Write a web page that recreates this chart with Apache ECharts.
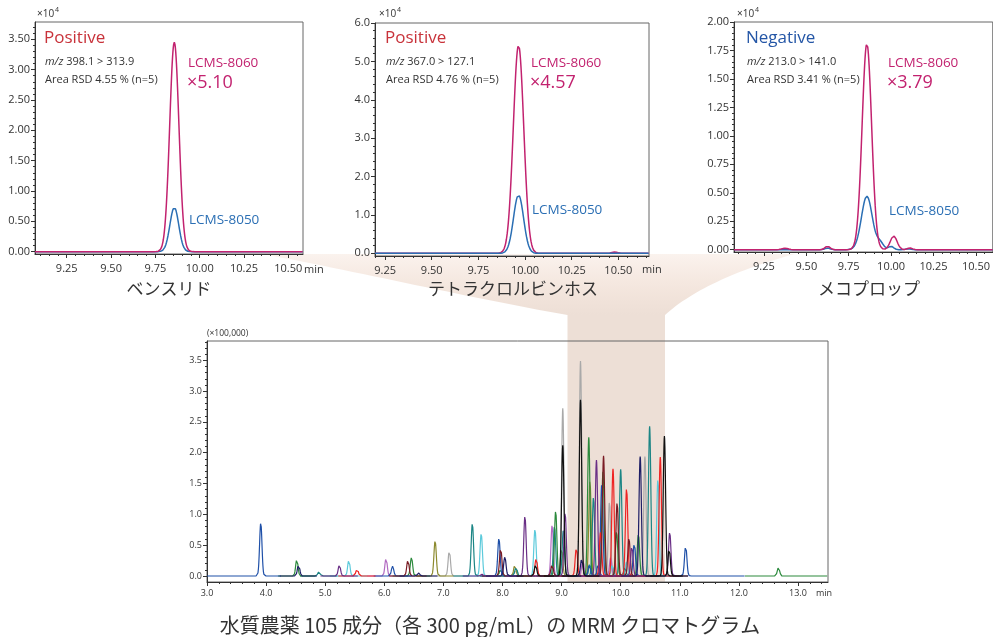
<!DOCTYPE html>
<html>
<head>
<meta charset="utf-8">
<script src="https://cdn.jsdelivr.net/npm/echarts@6/dist/echarts.min.js"></script>
<style>
  html, body { margin: 0; padding: 0; background: #fff; }
  #chart { width: 993px; height: 637px; }
</style>
</head>
<body>
<div id="chart"></div>
<script>
// ---------- Top panels: single-compound chromatograms (intensity ×10^4) ----------
// Peak tables: [retention time (min), height, sigma (min)]
const benPeaks8060 = [[9.857, 3.45, 0.026]];
const benPeaks8050 = [[9.857, 0.73, 0.025]];
const tetPeaks8060 = [[9.965, 5.42, 0.028], [10.48, 0.035, 0.015]];
const tetPeaks8050 = [[9.965, 1.52, 0.027]];
const mecPeaks8060 = [[9.375, 0.012, 0.02], [9.625, 0.03, 0.015], [9.857, 1.81, 0.028], [10.015, 0.12, 0.02], [10.11, 0.015, 0.015]];
const mecPeaks8050 = [[9.625, 0.015, 0.015], [9.857, 0.47, 0.032], [9.935, 0.06, 0.02], [10.0, 0.03, 0.015], [10.1, 0.008, 0.015]];

const compoundNames = ['ベンスリド', 'テトラクロルビンホス', 'メコプロップ'];
const ionModes = ['Positive', 'Positive', 'Negative'];
const transitions = ['398.1 > 313.9', '367.0 > 127.1', '213.0 > 141.0'];
const areaRsd = ['4.55', '4.76', '3.41'];
const sensitivityRatios = ['5.10', '4.57', '3.79'];

const topTimeTicks = [9.25, 9.5, 9.75, 10.0, 10.25, 10.5];
const benIntensityTicks = [0, 0.5, 1.0, 1.5, 2.0, 2.5, 3.0, 3.5];
const tetIntensityTicks = [0, 1, 2, 3, 4, 5, 6];
const mecIntensityTicks = [0, 0.25, 0.5, 0.75, 1.0, 1.25, 1.5, 1.75, 2.0];

// ---------- Bottom panel: MRM chromatogram of 105 pesticides (intensity ×100,000) ----------
// Peaks per trace colour: [retention time (min), height]
const grayPeaks = [[7.10, 0.41], [8.22, 0.10], [9.02, 2.72], [9.32, 3.49], [9.81, 1.21], [10.41, 1.94]];
const olivePeaks = [[6.86, 0.57], [8.21, 0.19], [9.00, 0.45], [9.48, 1.56]];
const lightPurplePeaks = [[6.03, 0.29], [8.84, 0.83], [9.36, 0.27], [9.83, 0.30]];
const cyanPeaks = [[5.40, 0.26], [7.64, 0.69], [8.55, 0.76], [9.86, 0.20], [10.10, 0.23], [10.63, 1.58]];
const tealPeaks = [[4.895, 0.07], [7.49, 0.855], [8.23, 0.15], [8.88, 0.81], [9.03, 0.75], [9.48, 0.22], [9.54, 1.29], [10.00, 1.73], [10.07, 0.14], [10.49, 2.43]];
const greenPeaks = [[4.52, 0.27], [6.46, 0.30], [7.97, 0.12], [8.90, 1.06], [9.46, 2.25], [9.70, 1.69], [9.93, 0.72], [10.30, 0.68], [12.67, 0.14]];
const bluePeaks = [[3.91, 0.865], [6.14, 0.16], [7.94, 0.61], [9.47, 0.20], [9.62, 0.20], [9.68, 1.50], [10.23, 0.54], [11.10, 0.49]];
const purplePeaks = [[5.24, 0.18], [7.65, 0.03], [8.38, 0.975], [9.06, 1.03], [9.59, 1.88], [10.19, 0.49], [10.83, 0.71]];
const redPeaks = [[5.54, 0.12], [8.57, 0.29], [9.25, 0.46], [9.66, 0.72], [9.87, 1.74], [10.10, 1.43], [10.67, 1.93]];
const darkRedPeaks = [[6.40, 0.26], [7.97, 0.45], [8.84, 0.20], [9.71, 1.95], [9.94, 1.20], [10.14, 0.61]];
const navyPeaks = [[4.55, 0.19], [6.58, 0.05], [8.04, 0.31], [9.34, 0.28], [10.33, 1.94]];
const blackPeaks = [[8.56, 0.18], [9.02, 2.12], [9.32, 2.86], [10.74, 2.27], [10.82, 0.44]];

const mrmTimeTicks = [3, 4, 5, 6, 7, 8, 9, 10, 11, 12, 13];
const mrmIntensityTicks = [0, 0.5, 1.0, 1.5, 2.0, 2.5, 3.0, 3.5];
const highlightRange = [9.1, 10.75];

// ---------- styling ----------
const C8060 = '#c2226f';
const C8050 = '#2b6fb4';
const traceGroups = [
  [grayPeaks, '#a9a9a9'],
  [olivePeaks, '#8c8a2e'],
  [lightPurplePeaks, '#b36cc2'],
  [cyanPeaks, '#5ccadb'],
  [tealPeaks, '#1b8585'],
  [greenPeaks, '#2c8a3d'],
  [bluePeaks, '#1f50a8'],
  [redPeaks, '#ef2424'],
  [darkRedPeaks, '#7a1b24'],
  [purplePeaks, '#6a2f86'],
  [navyPeaks, '#1e1e66'],
  [blackPeaks, '#111111']
];
const LATIN = 'Open Sans';
const CJK = 'Noto Sans CJK JP';

const chart = echarts.init(document.getElementById('chart'), null, { renderer: 'canvas', width: 993, height: 637 });

// summed gaussian trace sampled across a time range
function trace(peaks, from, to, step) {
  const pts = [];
  const n = Math.round((to - from) / step);
  for (let i = 0; i <= n; i++) {
    const t = from + i * step;
    let v = 0;
    for (const [rt, h, s] of peaks) v += h * Math.exp(-((t - rt) * (t - rt)) / (2 * s * s));
    pts.push([t, v]);
  }
  return pts;
}

// single peak sampled around its apex within an acquisition window
function peakTrace(rt, h, s, from, to, step) {
  const pts = [];
  const kFrom = Math.ceil((from - rt) / step), kTo = Math.floor((to - rt) / step);
  for (let k = kFrom; k <= kTo; k++) {
    const t = rt + k * step;
    pts.push([t, h * Math.exp(-((t - rt) * (t - rt)) / (2 * s * s))]);
  }
  return pts;
}

function acquisitionWindow(rt) {
  if (rt < 4.0) return [3.0, rt + 0.35];
  if (rt > 12) return [12.1, 13.5];
  if (rt > 11) return [rt - 0.3, 12.1];
  return [rt - 0.32, rt + 0.32];
}

function axisPair(dim, gridIndex, min, max, majors, minorStep, decimals, fontSize, margin) {
  const minors = [];
  const k0 = Math.ceil(min / minorStep - 1e-9), k1 = Math.floor(max / minorStep + 1e-9);
  for (let k = k0; k <= k1; k++) {
    const v = +(k * minorStep).toFixed(6);
    if (!majors.some(m => Math.abs(m - v) < 1e-6)) minors.push(v);
  }
  const common = {
    type: 'value', gridIndex, min, max,
    position: dim === 'x' ? 'bottom' : 'left',
    splitLine: { show: false }
  };
  const major = Object.assign({}, common, {
    axisLine: { show: true, onZero: false, lineStyle: { color: '#333', width: 1 } },
    axisTick: { show: true, customValues: majors, length: 4, lineStyle: { color: '#333' } },
    axisLabel: {
      show: true, customValues: majors, formatter: v => v.toFixed(decimals),
      fontSize, color: '#333', margin, fontFamily: LATIN
    }
  });
  const minor = Object.assign({}, common, {
    axisLine: { show: false, onZero: false },
    axisTick: { show: true, customValues: minors, length: 2, lineStyle: { color: '#333' } },
    axisLabel: { show: false }
  });
  return [major, minor];
}

const grids = [
  { left: 35, top: 22, width: 268, height: 232 },
  { left: 375, top: 23, width: 274, height: 233 },
  { left: 734, top: 22, width: 269, height: 230 },
  { left: 207, top: 341, width: 621, height: 241 }
].map(g => Object.assign(g, { show: true, borderColor: '#666', borderWidth: 1, containLabel: false }));

const xAxes = [
  ...axisPair('x', 0, 9.071, 10.583, topTimeTicks, 0.05, 2, 11, 9),
  ...axisPair('x', 1, 9.196, 10.664, topTimeTicks, 0.05, 2, 11, 9),
  ...axisPair('x', 2, 9.074, 10.599, topTimeTicks, 0.05, 2, 11, 9),
  ...axisPair('x', 3, 3.0, 13.508, mrmTimeTicks, 0.2, 1, 9, 7)
];
const yAxes = [
  ...axisPair('y', 0, -0.038, 3.785, benIntensityTicks, 0.1, 2, 11, 5),
  ...axisPair('y', 1, -0.07, 6.0, tetIntensityTicks, 0.2, 1, 11, 5),
  ...axisPair('y', 2, -0.02, 2.0, mecIntensityTicks, 0.05, 2, 11, 5),
  ...axisPair('y', 3, -0.097, 3.813, mrmIntensityTicks, 0.1, 1, 9, 5)
];

function lineSeries(panel, data, color, width) {
  return {
    type: 'line', xAxisIndex: panel * 2, yAxisIndex: panel * 2, data,
    showSymbol: false, symbol: 'none', silent: true, animation: false,
    lineStyle: { color, width }, z: 2
  };
}

const series = [
  lineSeries(0, trace(benPeaks8050, 9.071, 10.583, 0.002), C8050, 1.5),
  lineSeries(0, trace(benPeaks8060, 9.071, 10.583, 0.002), C8060, 1.5),
  lineSeries(1, trace(tetPeaks8060, 9.196, 10.664, 0.002), C8060, 1.5),
  lineSeries(1, trace(tetPeaks8050, 9.196, 10.664, 0.002), C8050, 1.5),
  lineSeries(2, trace(mecPeaks8050, 9.074, 10.599, 0.002), C8050, 1.5),
  lineSeries(2, trace(mecPeaks8060, 9.074, 10.599, 0.002), C8060, 1.5)
];
for (const [peaks, color] of traceGroups) {
  for (const [rt, h] of peaks) {
    const [from, to] = acquisitionWindow(rt);
    series.push(lineSeries(3, peakTrace(rt, h, 0.02, from, to, 0.004), color, 1.2));
  }
}

chart.setOption({
  animation: false,
  backgroundColor: '#fff',
  grid: grids,
  xAxis: xAxes,
  yAxis: yAxes,
  series
});

// ---------- annotations, highlight band and zoom funnel ----------
function txt(x, y, text, size, color, extra) {
  return {
    type: 'text', x, y, z: 5, silent: true,
    style: Object.assign({ text, fontSize: size, fill: color, fontFamily: LATIN, verticalAlign: 'middle', align: 'left' }, extra || {})
  };
}

const panelText = [
  { unitX: 37, modeX: 44, infoX: 45, ratioX: 188, lowY: 220, modeColor: '#c8323a' },
  { unitX: 379, modeX: 385, infoX: 386, ratioX: 531, lowY: 210, modeColor: '#c8323a' },
  { unitX: 737, modeX: 746, infoX: 747, ratioX: 888, lowY: 211, modeColor: '#2456a6' }
];
const titleCenters = [169, 513, 869];

const elements = [];
panelText.forEach((p, i) => {
  elements.push(txt(p.unitX, 14, '×10', 10, '#333'));
  elements.push(txt(p.unitX + 18, 10, '4', 7, '#333'));
  elements.push(txt(p.modeX, 38, ionModes[i], 17, p.modeColor));
  elements.push({
    type: 'text', x: p.infoX, y: 62, z: 5, silent: true,
    style: {
      text: '{i|m/z} ' + transitions[i], fontSize: 11, fill: '#333', fontFamily: LATIN, verticalAlign: 'middle',
      rich: { i: { fontStyle: 'italic', fontSize: 11, fill: '#333', fontFamily: LATIN } }
    }
  });
  elements.push(txt(p.infoX, 80, 'Area RSD ' + areaRsd[i] + ' % (n=5)', 11, '#333'));
  elements.push(txt(p.ratioX, 63, 'LCMS-8060', 13.5, C8060));
  elements.push(txt(p.ratioX - 1, 83, '×' + sensitivityRatios[i], 18, C8060));
  elements.push(txt(p.ratioX + 1, p.lowY, 'LCMS-8050', 13.5, C8050));
  elements.push(txt(titleCenters[i], 289, compoundNames[i], 17, '#333', { align: 'center', fontFamily: CJK }));
});
elements.push(txt(304, 270, 'min', 11, '#333'));
elements.push(txt(642, 270, 'min', 11, '#333'));
elements.push(txt(816, 593, 'min', 9, '#333'));
elements.push(txt(207, 334, '(×100,000)', 8.5, '#333'));
elements.push(txt(490, 625, '水質農薬 105 成分（各 300 pg/mL）の MRM クロマトグラム', 20, '#333', { align: 'center', fontFamily: CJK }));

const bandL = chart.convertToPixel({ xAxisIndex: 6 }, highlightRange[0]);
const bandR = chart.convertToPixel({ xAxisIndex: 6 }, highlightRange[1]);
const bandBottom = chart.convertToPixel({ yAxisIndex: 6 }, -0.097);
const bandTop = 315, funnelTop = 254;
const bandColor = '#eddfd6';

// cubic bezier outline sampled into polygon vertices
function bezier(p0, p1, p2, p3, n) {
  const pts = [];
  for (let i = 0; i <= n; i++) {
    const t = i / n, u = 1 - t;
    pts.push([
      u * u * u * p0[0] + 3 * u * u * t * p1[0] + 3 * u * t * t * p2[0] + t * t * t * p3[0],
      u * u * u * p0[1] + 3 * u * u * t * p1[1] + 3 * u * t * t * p2[1] + t * t * t * p3[1]
    ]);
  }
  return pts;
}
const funnelPoints = [
  ...bezier([795, funnelTop], [735, 270], [690, 292], [bandR, bandTop], 30),
  ...bezier([bandL, bandTop], [470, 298], [360, 272], [262, funnelTop], 30)
];

elements.push({
  type: 'rect', z: -1, silent: true,
  shape: { x: bandL, y: bandTop, width: bandR - bandL, height: bandBottom - bandTop },
  style: { fill: bandColor }
});
elements.push({
  type: 'polygon', z: -1, silent: true,
  shape: { points: funnelPoints },
  style: {
    fill: {
      type: 'linear', x: 0, y: 0, x2: 0, y2: 1,
      colorStops: [
        { offset: 0, color: 'rgba(240,214,198,0.3)' },
        { offset: 1, color: 'rgba(237,223,214,1)' }
      ]
    }
  }
});

chart.setOption({ graphic: { elements } });
</script>
</body>
</html>
